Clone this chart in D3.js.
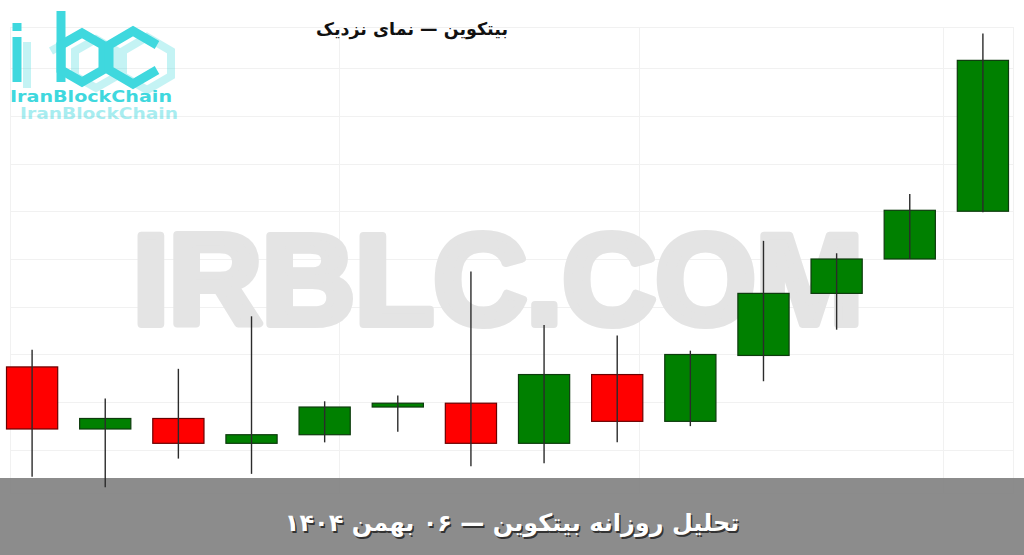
<!DOCTYPE html>
<html>
<head>
<meta charset="utf-8">
<script src="https://cdn.jsdelivr.net/npm/d3@7"></script>
<style>
  html, body { margin: 0; padding: 0; background: #fff; }
  svg { display: block; }
</style>
</head>
<body>
<svg id="chart" width="1024" height="555"></svg>
<script>
/* Bitcoin close-up — daily candles. */

const days   = ["1", "2", "3", "4", "5", "6", "7", "8", "9", "10", "11", "12", "13", "14"];
const opens  = [87370, 86720, 86830, 86570, 86660, 86950, 86990, 86570, 87290, 86800, 87490, 88140, 88500, 89000];
const highs  = [87550, 87040, 87350, 87900, 87010, 87070, 88370, 87810, 87700, 87540, 88690, 88560, 89180, 90860];
const lows   = [86220, 86110, 86410, 86250, 86580, 86690, 86330, 86360, 86580, 86750, 87220, 87760, 88500, 88990];
const closes = [86720, 86830, 86570, 86660, 86950, 86990, 86570, 87290, 86800, 87500, 88140, 88500, 89010, 90580];

const priceGrid = [86500, 87000, 87500, 88000, 88500, 89000, 89500, 90000, 90500];
const timeGrid  = [4.2, 8.3, 12.45];   // vertical grid, in candle-index units

const TITLE  = "بیتکوین — نمای نزدیک";
const BANNER = "تحلیل روزانه بیتکوین — ۰۶ بهمن ۱۴۰۴";

const UP = "#008000", DOWN = "#ff0000", TEAL = "#3fd8de";

const svg = d3.select("#chart");

const x = d3.scaleBand().domain(days).range([6.5, 1008.5]).paddingInner(0.3).paddingOuter(0);
const xi = d3.scaleLinear().domain([0, 13]).range([x(days[0]) + x.bandwidth() / 2, x(days[13]) + x.bandwidth() / 2]);
const y = d3.scaleLinear().domain([86000, 91000]).range([497.75, 20.25]);

const candles = days.map((d, i) => ({ d, o: opens[i], h: highs[i], l: lows[i], c: closes[i] }));

/* ---------- grid + frame ---------- */
const grid = svg.append("g").attr("stroke", "#f1f1f1").attr("stroke-width", 1);
grid.selectAll("line.h").data(priceGrid).join("line")
  .attr("x1", 10).attr("x2", 1013)
  .attr("y1", (v) => Math.round(y(v)) + 0.5).attr("y2", (v) => Math.round(y(v)) + 0.5);
grid.selectAll("line.v").data(timeGrid).join("line")
  .attr("y1", 27).attr("y2", 493)
  .attr("x1", (v) => Math.round(xi(v)) + 0.5).attr("x2", (v) => Math.round(xi(v)) + 0.5);
grid.append("rect").attr("x", 10.5).attr("y", 27.5).attr("width", 1003).attr("height", 466).attr("fill", "none");

/* ---------- watermark ---------- */
svg.append("text")
  .attr("x", 133).attr("y", 323.5)
  .attr("font-family", "Liberation Sans, Arial, sans-serif")
  .attr("font-weight", 700).attr("font-size", 128)
  .attr("fill", "#e4e4e4").attr("stroke", "#e4e4e4").attr("stroke-width", 8)
  .attr("stroke-linejoin", "round")
  .attr("textLength", 730).attr("lengthAdjust", "spacingAndGlyphs")
  .text("IRBLC.COM");

/* ---------- logo ---------- */
const logo = svg.append("g").attr("fill", "none").attr("stroke-linejoin", "miter");
const hexB = "M61,45 L82,33 L103,45 L103,70 L82,82 L61,70 Z";
const hexC = "M157,45 L133,31 L109,45 L109,70 L133,84 L157,70";
const ghost = logo.append("g").attr("stroke", TEAL).attr("stroke-width", 8).attr("opacity", 0.3)
  .attr("transform", "translate(14,6)");
ghost.append("path").attr("d", "M13,36 L13,82");
ghost.append("path").attr("d", "M37,45 L58,33");
ghost.append("path").attr("d", hexB);
ghost.append("path").attr("d", hexC + " Z");
const main = logo.append("g").attr("stroke", TEAL).attr("stroke-width", 9);
main.append("path").attr("d", "M17,37 L17,82");
main.append("path").attr("d", "M17,23 L17,31");
main.append("path").attr("d", "M61,11 L61,82");
main.append("path").attr("d", hexB);
main.append("path").attr("d", hexC);
svg.append("text").attr("x", 10).attr("y", 102)
  .attr("font-family", "DejaVu Sans, sans-serif").attr("font-weight", 700).attr("font-size", 16)
  .attr("fill", TEAL).attr("textLength", 162).attr("lengthAdjust", "spacingAndGlyphs")
  .text("IranBlockChain");
svg.append("text").attr("x", 20).attr("y", 119)
  .attr("font-family", "DejaVu Sans, sans-serif").attr("font-weight", 700).attr("font-size", 16)
  .attr("fill", TEAL).attr("opacity", 0.45).attr("textLength", 158).attr("lengthAdjust", "spacingAndGlyphs")
  .text("IranBlockChain");

/* ---------- title ---------- */
svg.append("text").attr("x", 412).attr("y", 35)
  .attr("text-anchor", "middle").attr("direction", "rtl")
  .attr("font-family", "DejaVu Sans, sans-serif").attr("font-weight", 700).attr("font-size", 17.5)
  .attr("fill", "#111").text(TITLE);

/* ---------- banner ---------- */
svg.append("rect").attr("x", 0).attr("y", 478).attr("width", 1024).attr("height", 77)
  .attr("fill", "#7f7f7f").attr("opacity", 0.9);
svg.append("text").attr("x", 513.5).attr("y", 532.5)
  .attr("text-anchor", "middle").attr("direction", "rtl")
  .attr("font-family", "DejaVu Sans, sans-serif").attr("font-weight", 700).attr("font-size", 24)
  .attr("fill", "#333").text(BANNER);
svg.append("text").attr("x", 512).attr("y", 531)
  .attr("text-anchor", "middle").attr("direction", "rtl")
  .attr("font-family", "DejaVu Sans, sans-serif").attr("font-weight", 700).attr("font-size", 24)
  .attr("fill", "#fff").text(BANNER);

/* ---------- candles ---------- */
const cg = svg.append("g").selectAll("g").data(candles).join("g");
cg.append("rect")
  .attr("x", (d) => x(d.d))
  .attr("width", x.bandwidth())
  .attr("y", (d) => y(Math.max(d.o, d.c)))
  .attr("height", (d) => Math.max(1, Math.abs(y(d.o) - y(d.c))))
  .attr("fill", (d) => (d.c >= d.o ? UP : DOWN))
  .attr("stroke", (d) => (d.c >= d.o ? "#0d3b0d" : "#6b0000"))
  .attr("stroke-width", 1.2);
cg.append("line")
  .attr("x1", (d) => x(d.d) + x.bandwidth() / 2).attr("x2", (d) => x(d.d) + x.bandwidth() / 2)
  .attr("y1", (d) => y(d.h)).attr("y2", (d) => y(d.l))
  .attr("stroke", "#2b2b2b").attr("stroke-width", 1.4);
</script>
</body>
</html>
